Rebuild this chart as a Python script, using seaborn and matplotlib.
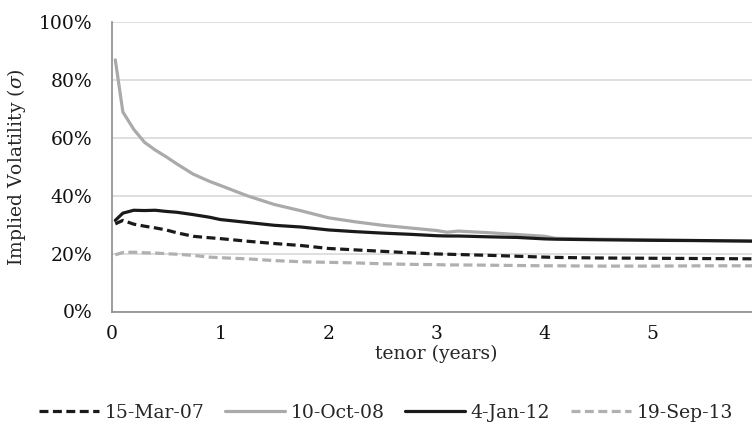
import numpy as np
import pandas as pd
import matplotlib
matplotlib.use("Agg")
import matplotlib.pyplot as plt
import seaborn as sns

tenor = [0.03, 0.1, 0.2, 0.3, 0.4, 0.5, 0.6, 0.75, 0.9, 1.0, 1.25, 1.5, 1.75,
         2.0, 2.25, 2.5, 2.75, 3.0, 3.1, 3.2, 3.5, 3.75, 4.0, 4.1, 4.5, 5.0, 5.5, 6.0]

mar07 = [30.3, 31.5, 30.2, 29.5, 28.9, 28.2, 27.2, 26.0, 25.5, 25.2, 24.3, 23.5, 22.8,
         21.8, 21.3, 20.8, 20.3, 19.9, 19.8, 19.7, 19.4, 19.1, 18.8, 18.7, 18.5, 18.4, 18.3, 18.2]
oct08 = [87.0, 69.0, 63.0, 58.5, 55.8, 53.5, 51.0, 47.5, 45.0, 43.6, 40.0, 37.0, 34.8,
         32.4, 31.0, 29.8, 28.9, 28.0, 27.4, 27.8, 27.2, 26.6, 26.0, 25.3, 25.0, 24.8, 24.5, 24.3]
jan12 = [31.5, 34.0, 35.0, 34.9, 35.0, 34.6, 34.3, 33.5, 32.6, 31.8, 30.8, 29.8, 29.2,
         28.2, 27.6, 27.1, 26.7, 26.2, 26.1, 26.1, 25.8, 25.6, 25.1, 25.0, 24.8, 24.6, 24.5, 24.3]
sep13 = [19.6, 20.4, 20.5, 20.3, 20.2, 20.0, 19.8, 19.4, 18.8, 18.6, 18.2, 17.6, 17.2,
         17.0, 16.8, 16.5, 16.3, 16.2, 16.1, 16.1, 16.0, 15.9, 15.8, 15.8, 15.7, 15.7, 15.8, 15.8]

dates = ["15-Mar-07", "10-Oct-08", "4-Jan-12", "19-Sep-13"]
series = [mar07, oct08, jan12, sep13]

df = pd.DataFrame({"tenor": tenor * 4,
                   "vol": [v / 100 for s in series for v in s],
                   "date": [d for d in dates for _ in tenor]})

sns.set_style("white")
plt.rcParams["font.family"] = ["DejaVu Serif"]
plt.rcParams["mathtext.fontset"] = "dejavuserif"
fs = 13.5

fig = plt.figure(figsize=(7.52, 4.45), dpi=100)
ax = fig.add_axes([0.149, 0.30, 0.863, 0.65])

colors = {"15-Mar-07": "#1a1a1a", "10-Oct-08": "#aaaaaa",
          "4-Jan-12": "#1a1a1a", "19-Sep-13": "#b0b0b0"}
dash = (2.8, 1.4)
sns.lineplot(data=df, x="tenor", y="vol", hue="date", style="date",
             palette=colors, dashes={"15-Mar-07": dash, "10-Oct-08": "",
                                     "4-Jan-12": "", "19-Sep-13": dash},
             linewidth=2.3, ax=ax, legend=False)

ax.set_xlim(0, 6)
ax.set_ylim(0, 1)
ax.set_xticks(range(6))
ax.set_yticks(np.arange(0, 1.01, 0.2))
ax.set_yticklabels([f"{int(round(v * 100))}%" for v in np.arange(0, 1.01, 0.2)])
ax.yaxis.grid(True, color="#d9d9d9", linewidth=1.2)
ax.xaxis.grid(False)
for side in ["top", "right"]:
    ax.spines[side].set_visible(False)
for side in ["left", "bottom"]:
    ax.spines[side].set_color("#8c8c8c")
    ax.spines[side].set_linewidth(1.2)
ax.tick_params(axis="both", direction="out", length=5, width=1.2, color="#8c8c8c",
               labelsize=fs, labelcolor="#111111")
ax.tick_params(axis="y", pad=9)
ax.tick_params(axis="x", pad=5)
ax.set_xlabel("tenor (years)", fontsize=fs, labelpad=1)
ax.set_ylabel(r"Implied Volatility ($\sigma$)", fontsize=fs, labelpad=8)

handles = [plt.Line2D([], [], color=colors[d], linewidth=2.3,
                      linestyle=(0, dash) if d in ("15-Mar-07", "19-Sep-13") else "-")
           for d in dates]
fig.legend(handles, dates, loc="center", bbox_to_anchor=(0.513, 0.072), ncol=4,
           frameon=False, fontsize=fs, handlelength=3.2, handletextpad=0.3,
           columnspacing=1.1)

fig.savefig("out.png", dpi=100)
